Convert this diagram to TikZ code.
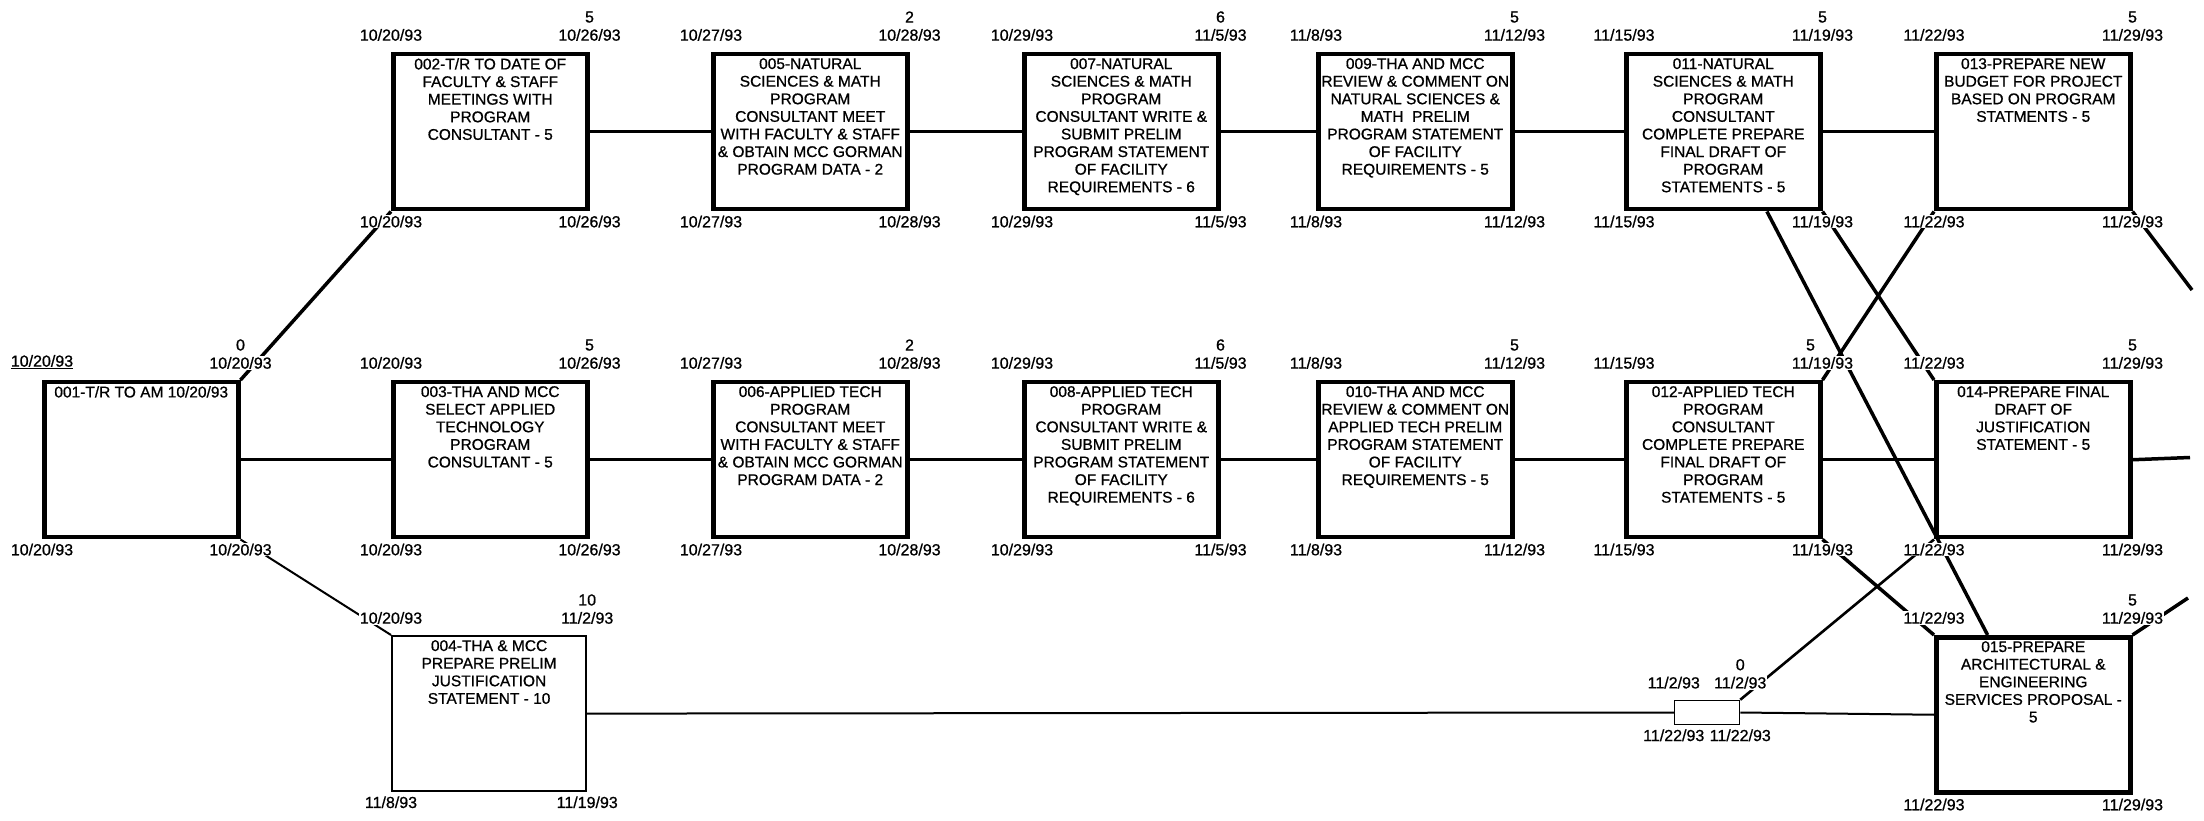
\documentclass[tikz,border=0pt]{standalone}
\usepackage{fontspec}
\setmainfont{Liberation Sans}[FakeBold=0.8]
\usetikzlibrary{calc}

\begin{document}
\begin{tikzpicture}[x=1pt,y=1pt]
    \tikzset{
        taskbox/.style={draw, line width=4.5pt, minimum width=194pt, minimum height=155pt, anchor=north west, inner sep=0pt},
        thinbox/.style={taskbox, line width=2.2pt},
        tasktext/.style={anchor=north, align=center, inner sep=0pt, font=\fontsize{15.5}{17.6}\selectfont},
        datestyle/.style={fill=white, inner sep=1pt, align=center, font=\fontsize{16}{17}\selectfont},
        linkstyle/.style={line width=3.5pt},
        thinlink/.style={line width=2pt}
    }
    \useasboundingbox (0,0) rectangle (2204,820);

    % Depart
    \node[taskbox] (t001) at (42,440) {};

    % Ligne 1 : sciences naturelles
    \node[taskbox] (t002) at (391,768) {};
    \node[taskbox] (t005) at (711,768) {};
    \node[taskbox] (t007) at (1022,768) {};
    \node[taskbox] (t009) at (1316,768) {};
    \node[taskbox] (t011) at (1624,768) {};
    \node[taskbox] (t013) at (1934,768) {};

    % Ligne 2 : technologie appliquee
    \node[taskbox] (t003) at (391,440) {};
    \node[taskbox] (t006) at (711,440) {};
    \node[taskbox] (t008) at (1022,440) {};
    \node[taskbox] (t010) at (1316,440) {};
    \node[taskbox] (t012) at (1624,440) {};
    \node[taskbox] (t014) at (1934,440) {};

    % Ligne 3 : justification et proposition
    \node[thinbox] (t004) at (391,185) {};
    \node[draw, line width=1.5pt, minimum width=65pt, minimum height=24pt, inner sep=0pt] (tdum) at (1707,107.5) {};
    \node[taskbox] (t015) at (1934,185) {};

    % Textes des taches
    \node[tasktext] (x001) at ([yshift=-6pt]t001.north) {001-T/R TO AM 10/20/93};
    \node[tasktext] (x002) at ([yshift=-6pt]t002.north) {002-T/R TO DATE OF\\FACULTY \& STAFF\\MEETINGS WITH\\PROGRAM\\CONSULTANT - 5};
    \node[tasktext] (x003) at ([yshift=-6pt]t003.north) {003-THA AND MCC\\SELECT APPLIED\\TECHNOLOGY\\PROGRAM\\CONSULTANT - 5};
    \node[tasktext] (x004) at ([yshift=-5pt]t004.north) {004-THA \& MCC\\PREPARE PRELIM\\JUSTIFICATION\\STATEMENT - 10};
    \node[tasktext] (x005) at ([yshift=-6pt]t005.north) {005-NATURAL\\SCIENCES \& MATH\\PROGRAM\\CONSULTANT MEET\\WITH FACULTY \& STAFF\\\& OBTAIN MCC GORMAN\\PROGRAM DATA - 2};
    \node[tasktext] (x006) at ([yshift=-6pt]t006.north) {006-APPLIED TECH\\PROGRAM\\CONSULTANT MEET\\WITH FACULTY \& STAFF\\\& OBTAIN MCC GORMAN\\PROGRAM DATA - 2};
    \node[tasktext] (x007) at ([yshift=-6pt]t007.north) {007-NATURAL\\SCIENCES \& MATH\\PROGRAM\\CONSULTANT WRITE \&\\SUBMIT PRELIM\\PROGRAM STATEMENT\\OF FACILITY\\REQUIREMENTS - 6};
    \node[tasktext] (x008) at ([yshift=-6pt]t008.north) {008-APPLIED TECH\\PROGRAM\\CONSULTANT WRITE \&\\SUBMIT PRELIM\\PROGRAM STATEMENT\\OF FACILITY\\REQUIREMENTS - 6};
    \node[tasktext] (x009) at ([yshift=-6pt]t009.north) {009-THA AND MCC\\REVIEW \& COMMENT ON\\NATURAL SCIENCES \&\\MATH\ \ PRELIM\\PROGRAM STATEMENT\\OF FACILITY\\REQUIREMENTS - 5};
    \node[tasktext] (x010) at ([yshift=-6pt]t010.north) {010-THA AND MCC\\REVIEW \& COMMENT ON\\APPLIED TECH PRELIM\\PROGRAM STATEMENT\\OF FACILITY\\REQUIREMENTS - 5};
    \node[tasktext] (x011) at ([yshift=-6pt]t011.north) {011-NATURAL\\SCIENCES \& MATH\\PROGRAM\\CONSULTANT\\COMPLETE PREPARE\\FINAL DRAFT OF\\PROGRAM\\STATEMENTS - 5};
    \node[tasktext] (x012) at ([yshift=-6pt]t012.north) {012-APPLIED TECH\\PROGRAM\\CONSULTANT\\COMPLETE PREPARE\\FINAL DRAFT OF\\PROGRAM\\STATEMENTS - 5};
    \node[tasktext] (x013) at ([yshift=-6pt]t013.north) {013-PREPARE NEW\\BUDGET FOR PROJECT\\BASED ON PROGRAM\\STATMENTS - 5};
    \node[tasktext] (x014) at ([yshift=-6pt]t014.north) {014-PREPARE FINAL\\DRAFT OF\\JUSTIFICATION\\STATEMENT - 5};
    \node[tasktext] (x015) at ([yshift=-6pt]t015.north) {015-PREPARE\\ARCHITECTURAL \&\\ENGINEERING\\SERVICES PROPOSAL -\\5};

    % Sorties vers la feuille suivante
    \coordinate (out13) at (2192,530);
    \coordinate (out14) at (2190,362.5);
    \coordinate (out15) at (2188,222);

    % Liaisons
    \draw[linkstyle] (t001.north east) -- (t002.south west);
    \draw[linkstyle] (t001.east) -- (t003.west);
    \draw[thinlink] (t001.south east) -- (t004.north west);
    \draw[linkstyle] (t002.east) -- (t005.west);
    \draw[linkstyle] (t005.east) -- (t007.west);
    \draw[linkstyle] (t007.east) -- (t009.west);
    \draw[linkstyle] (t009.east) -- (t011.west);
    \draw[linkstyle] (t011.east) -- (t013.west);
    \draw[linkstyle] (t003.east) -- (t006.west);
    \draw[linkstyle] (t006.east) -- (t008.west);
    \draw[linkstyle] (t008.east) -- (t010.west);
    \draw[linkstyle] (t010.east) -- (t012.west);
    \draw[linkstyle] (t012.east) -- (t014.west);
    \draw[linkstyle] (t014.east) -- (out14);
    \draw[thinlink] (t004.east) -- (tdum.west);
    \draw[thinlink] (tdum.east) -- (t015.west);
    \draw[linkstyle] ($(t011.south west)!0.72!(t011.south east)$) -- ($(t015.north west)!0.27!(t015.north east)$);
    \draw[linkstyle] (t011.south east) -- (t014.north west);
    \draw[linkstyle] (t013.south west) -- (t012.north east);
    \draw[linkstyle] (t012.south east) -- (t015.north west);
    \draw[thinlink, line width=2.6pt] (t014.south west) -- (tdum.north east);
    \draw[linkstyle] (t013.south east) -- (out13);
    \draw[linkstyle] (t015.north east) -- (out15);

    % Dates : debut tot / fin tot (haut), debut tard / fin tard (bas)
    \foreach \n/\tl/\d/\tr/\bl/\br/\dx in {
        t001/{\underline{10/20/93}}/0/{10/20/93}/{10/20/93}/{10/20/93}/0,
        t002/{10/20/93}/5/{10/26/93}/{10/20/93}/{10/26/93}/0,
        t003/{10/20/93}/5/{10/26/93}/{10/20/93}/{10/26/93}/0,
        t004/{10/20/93}/10/{11/2/93}/{11/8/93}/{11/19/93}/0,
        t005/{10/27/93}/2/{10/28/93}/{10/27/93}/{10/28/93}/0,
        t006/{10/27/93}/2/{10/28/93}/{10/27/93}/{10/28/93}/0,
        t007/{10/29/93}/6/{11/5/93}/{10/29/93}/{11/5/93}/0,
        t008/{10/29/93}/6/{11/5/93}/{10/29/93}/{11/5/93}/0,
        t009/{11/8/93}/5/{11/12/93}/{11/8/93}/{11/12/93}/0,
        t010/{11/8/93}/5/{11/12/93}/{11/8/93}/{11/12/93}/0,
        t011/{11/15/93}/5/{11/19/93}/{11/15/93}/{11/19/93}/0,
        t012/{11/15/93}/5/{11/19/93}/{11/15/93}/{11/19/93}/-12,
        t013/{11/22/93}/5/{11/29/93}/{11/22/93}/{11/29/93}/0,
        t014/{11/22/93}/5/{11/29/93}/{11/22/93}/{11/29/93}/0,
        t015/{11/22/93}/5/{11/29/93}/{11/22/93}/{11/29/93}/0,
        tdum/{11/2/93}/0/{11/2/93}/{11/22/93}/{11/22/93}/0} {
        \node[datestyle, above=10pt] (\n-tl) at (\n.north west) {\tl};
        \node[datestyle, above=10pt] (\n-tr) at (\n.north east) {\tr};
        \node[datestyle, above=4pt, xshift=\dx] (\n-du) at (\n-tr.north) {\d};
        \node[datestyle, below=3pt] (\n-bl) at (\n.south west) {\bl};
        \node[datestyle, below=3pt] (\n-br) at (\n.south east) {\br};
    }
\end{tikzpicture}
\end{document}
